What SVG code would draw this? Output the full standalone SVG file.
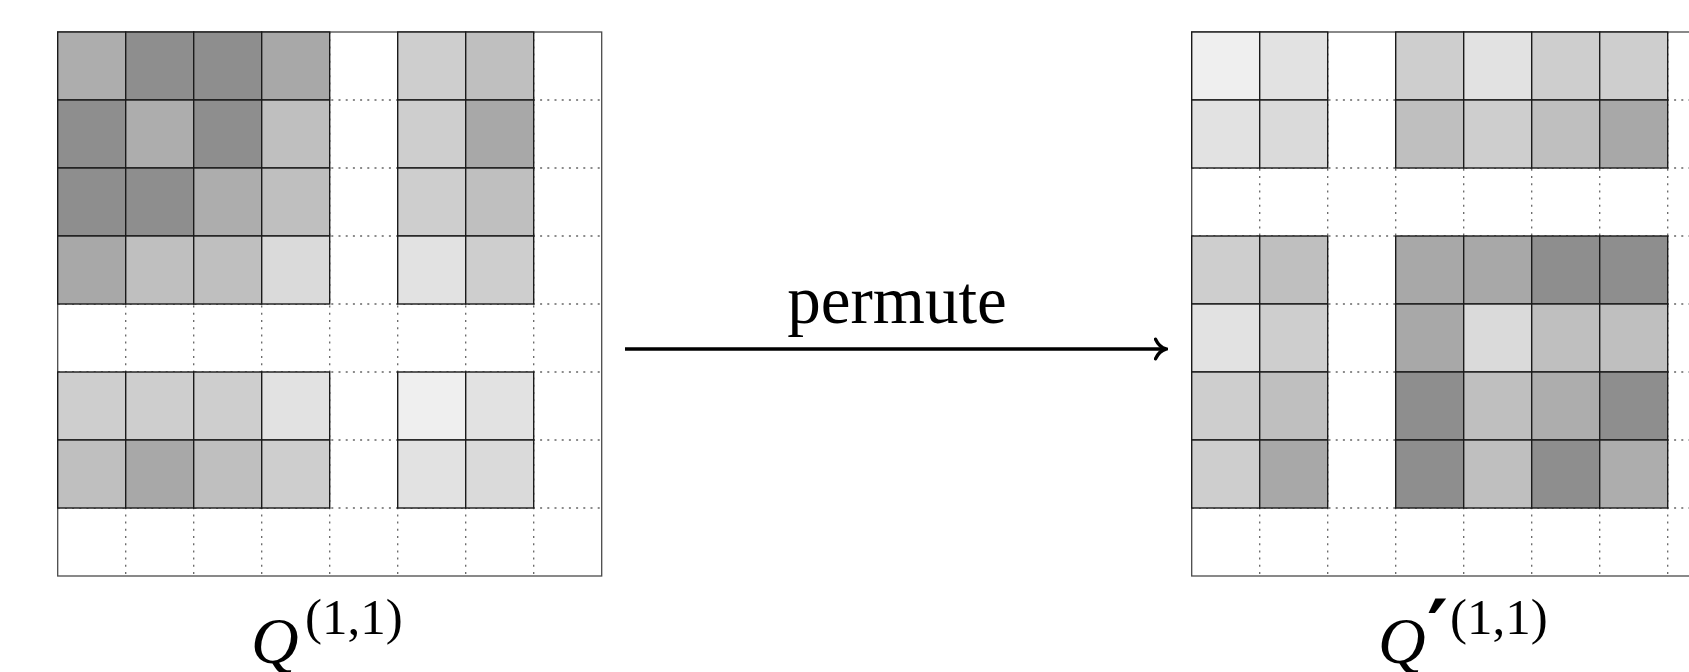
<svg xmlns="http://www.w3.org/2000/svg" width="1689" height="672" viewBox="0 0 1689 672">
  <style>
    .frame { fill: #ffffff; stroke: #4a4a4a; stroke-width: 1.3; }
    .dot { stroke: #666666; stroke-width: 1.3; stroke-dasharray: 2 5.2; fill: none; }
    .cell { stroke: #1a1a1a; stroke-width: 1.4; }
    .s1 { fill: #8e8e8e; } .s2 { fill: #a8a8a8; } .s3 { fill: #adadad; } .s4 { fill: #bfbfbf; }
    .s5 { fill: #cecece; } .s6 { fill: #dadada; } .s7 { fill: #e2e2e2; } .s8 { fill: #efefef; }
    .lbl { font-family: "Liberation Serif", "DejaVu Serif", serif; fill: #000000; }
    .it { font-style: italic; }
  </style>
  <defs>
    <marker id="tip" viewBox="0 0 14 24" refX="12.5" refY="12" markerWidth="14" markerHeight="24" markerUnits="userSpaceOnUse" orient="auto">
      <path d="M2,2.2 C4,6.5 8,10.8 12.5,12 C8,13.2 4,17.5 2,21.8" fill="none" stroke="#000000" stroke-width="3.4" stroke-linecap="round"/>
    </marker>
  </defs>

  <rect width="1689" height="672" fill="#ffffff"/>

  <!-- left matrix Q^(1,1) -->
  <g id="matrix-q">
    <rect class="frame" x="57.7" y="32" width="544" height="544"/>
    <g class="dot">
      <path d="M125.7,32V576M193.7,32V576M261.7,32V576M329.7,32V576M397.7,32V576M465.7,32V576M533.7,32V576"/>
      <path d="M57.7,100H601.7M57.7,168H601.7M57.7,236H601.7M57.7,304H601.7M57.7,372H601.7M57.7,440H601.7M57.7,508H601.7"/>
    </g>
    <g class="cell">
      <!-- row 0 -->
      <rect class="s3" x="57.7" y="32" width="68" height="68"/>
      <rect class="s1" x="125.7" y="32" width="68" height="68"/>
      <rect class="s1" x="193.7" y="32" width="68" height="68"/>
      <rect class="s2" x="261.7" y="32" width="68" height="68"/>
      <rect class="s5" x="397.7" y="32" width="68" height="68"/>
      <rect class="s4" x="465.7" y="32" width="68" height="68"/>
      <!-- row 1 -->
      <rect class="s1" x="57.7" y="100" width="68" height="68"/>
      <rect class="s3" x="125.7" y="100" width="68" height="68"/>
      <rect class="s1" x="193.7" y="100" width="68" height="68"/>
      <rect class="s4" x="261.7" y="100" width="68" height="68"/>
      <rect class="s5" x="397.7" y="100" width="68" height="68"/>
      <rect class="s2" x="465.7" y="100" width="68" height="68"/>
      <!-- row 2 -->
      <rect class="s1" x="57.7" y="168" width="68" height="68"/>
      <rect class="s1" x="125.7" y="168" width="68" height="68"/>
      <rect class="s3" x="193.7" y="168" width="68" height="68"/>
      <rect class="s4" x="261.7" y="168" width="68" height="68"/>
      <rect class="s5" x="397.7" y="168" width="68" height="68"/>
      <rect class="s4" x="465.7" y="168" width="68" height="68"/>
      <!-- row 3 -->
      <rect class="s2" x="57.7" y="236" width="68" height="68"/>
      <rect class="s4" x="125.7" y="236" width="68" height="68"/>
      <rect class="s4" x="193.7" y="236" width="68" height="68"/>
      <rect class="s6" x="261.7" y="236" width="68" height="68"/>
      <rect class="s7" x="397.7" y="236" width="68" height="68"/>
      <rect class="s5" x="465.7" y="236" width="68" height="68"/>
      <!-- row 5 -->
      <rect class="s5" x="57.7" y="372" width="68" height="68"/>
      <rect class="s5" x="125.7" y="372" width="68" height="68"/>
      <rect class="s5" x="193.7" y="372" width="68" height="68"/>
      <rect class="s7" x="261.7" y="372" width="68" height="68"/>
      <rect class="s8" x="397.7" y="372" width="68" height="68"/>
      <rect class="s7" x="465.7" y="372" width="68" height="68"/>
      <!-- row 6 -->
      <rect class="s4" x="57.7" y="440" width="68" height="68"/>
      <rect class="s2" x="125.7" y="440" width="68" height="68"/>
      <rect class="s4" x="193.7" y="440" width="68" height="68"/>
      <rect class="s5" x="261.7" y="440" width="68" height="68"/>
      <rect class="s7" x="397.7" y="440" width="68" height="68"/>
      <rect class="s6" x="465.7" y="440" width="68" height="68"/>
    </g>
    <text class="lbl" x="251" y="663"><tspan class="it" font-size="66">Q</tspan><tspan x="305" y="634" font-size="51">(1,1)</tspan></text>
  </g>

  <!-- right matrix Q'^(1,1) -->
  <g id="matrix-q-prime">
    <rect class="frame" x="1191.7" y="32" width="544" height="544"/>
    <g class="dot">
      <path d="M1259.7,32V576M1327.7,32V576M1395.7,32V576M1463.7,32V576M1531.7,32V576M1599.7,32V576M1667.7,32V576"/>
      <path d="M1191.7,100H1735.7M1191.7,168H1735.7M1191.7,236H1735.7M1191.7,304H1735.7M1191.7,372H1735.7M1191.7,440H1735.7M1191.7,508H1735.7"/>
    </g>
    <g class="cell">
      <!-- row 0 -->
      <rect class="s8" x="1191.7" y="32" width="68" height="68"/>
      <rect class="s7" x="1259.7" y="32" width="68" height="68"/>
      <rect class="s5" x="1395.7" y="32" width="68" height="68"/>
      <rect class="s7" x="1463.7" y="32" width="68" height="68"/>
      <rect class="s5" x="1531.7" y="32" width="68" height="68"/>
      <rect class="s5" x="1599.7" y="32" width="68" height="68"/>
      <!-- row 1 -->
      <rect class="s7" x="1191.7" y="100" width="68" height="68"/>
      <rect class="s6" x="1259.7" y="100" width="68" height="68"/>
      <rect class="s4" x="1395.7" y="100" width="68" height="68"/>
      <rect class="s5" x="1463.7" y="100" width="68" height="68"/>
      <rect class="s4" x="1531.7" y="100" width="68" height="68"/>
      <rect class="s2" x="1599.7" y="100" width="68" height="68"/>
      <!-- row 3 -->
      <rect class="s5" x="1191.7" y="236" width="68" height="68"/>
      <rect class="s4" x="1259.7" y="236" width="68" height="68"/>
      <rect class="s2" x="1395.7" y="236" width="68" height="68"/>
      <rect class="s2" x="1463.7" y="236" width="68" height="68"/>
      <rect class="s1" x="1531.7" y="236" width="68" height="68"/>
      <rect class="s1" x="1599.7" y="236" width="68" height="68"/>
      <!-- row 4 -->
      <rect class="s7" x="1191.7" y="304" width="68" height="68"/>
      <rect class="s5" x="1259.7" y="304" width="68" height="68"/>
      <rect class="s2" x="1395.7" y="304" width="68" height="68"/>
      <rect class="s6" x="1463.7" y="304" width="68" height="68"/>
      <rect class="s4" x="1531.7" y="304" width="68" height="68"/>
      <rect class="s4" x="1599.7" y="304" width="68" height="68"/>
      <!-- row 5 -->
      <rect class="s5" x="1191.7" y="372" width="68" height="68"/>
      <rect class="s4" x="1259.7" y="372" width="68" height="68"/>
      <rect class="s1" x="1395.7" y="372" width="68" height="68"/>
      <rect class="s4" x="1463.7" y="372" width="68" height="68"/>
      <rect class="s3" x="1531.7" y="372" width="68" height="68"/>
      <rect class="s1" x="1599.7" y="372" width="68" height="68"/>
      <!-- row 6 -->
      <rect class="s5" x="1191.7" y="440" width="68" height="68"/>
      <rect class="s2" x="1259.7" y="440" width="68" height="68"/>
      <rect class="s1" x="1395.7" y="440" width="68" height="68"/>
      <rect class="s4" x="1463.7" y="440" width="68" height="68"/>
      <rect class="s1" x="1531.7" y="440" width="68" height="68"/>
      <rect class="s3" x="1599.7" y="440" width="68" height="68"/>
    </g>
    <text class="lbl" x="1378" y="663"><tspan class="it" font-size="66">Q</tspan><tspan x="1427" y="657" font-size="80" font-family="DejaVu Sans" font-weight="bold">′</tspan><tspan x="1450" y="634" font-size="51">(1,1)</tspan></text>
  </g>

  <!-- permutation arrow -->
  <g id="connectors">
    <line x1="625" y1="349" x2="1166" y2="349" stroke="#000000" stroke-width="3.6" marker-end="url(#tip)"/>
    <text class="lbl" x="897" y="323" font-size="67" text-anchor="middle">permute</text>
  </g>
</svg>
